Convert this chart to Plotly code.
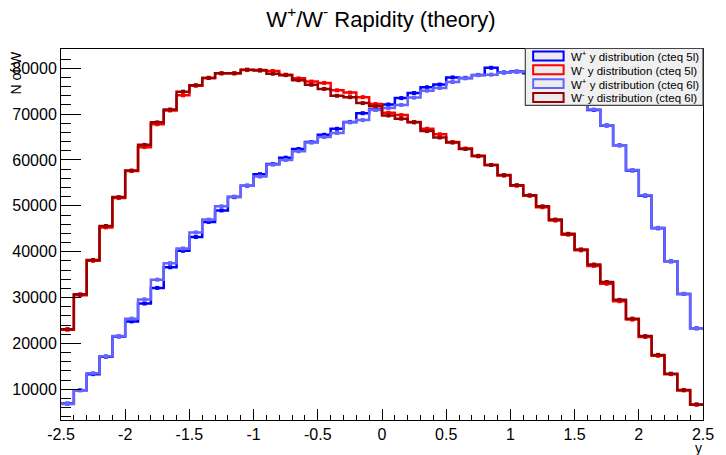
import numpy as np
import plotly.graph_objects as go

# ---- data ----
bin_lo, bin_hi, n_bins = -2.5, 2.5, 50

wplus_cteq5l = [6900, 9800, 13300, 17100, 21500, 24800, 28700, 32100, 36600, 40200,
                43200, 46500, 49000, 51900, 54400, 56900, 59100, 60500, 62400, 63900,
                65500, 66800, 68300, 70200, 71000, 72100, 73500, 74600, 75850, 76450,
                78000, 77900, 78550, 80100, 79100, 79300, 78900, 78900, 77900, 76200,
                74500, 70900, 67500, 63200, 57700, 52200, 45100, 37900, 30800, 23300]

wminus_cteq5l = [23000, 30500, 38000, 45300, 51700, 57600, 62800, 67800, 70800, 74100,
                 76200, 77900, 78900, 78900, 79600, 79600, 79400, 78600, 77800, 77100,
                 76800, 75200, 74700, 73700, 72200, 70300, 69800, 68300, 66800, 65600,
                 63900, 62500, 60800, 58900, 56600, 54400, 52200, 49700, 46800, 43700,
                 40300, 36900, 33000, 29200, 25200, 21400, 17300, 13300, 9750, 6650]

wplus_cteq6l = [6800, 9800, 13500, 17200, 21600, 25400, 29600, 33900, 37500, 40700,
                44200, 47000, 49900, 52000, 54400, 56400, 59000, 60000, 61900, 63800,
                65000, 65900, 68200, 68700, 70900, 71350, 72000, 73600, 75100, 75700,
                77000, 77800, 78500, 78600, 79000, 79200, 79300, 79400, 78800, 77500,
                74800, 71000, 67600, 63200, 57800, 52300, 45200, 37900, 30800, 23300]

wminus_cteq6l = [23100, 30700, 38200, 45600, 51900, 57700, 63300, 68200, 71000, 74900,
                 76300, 77900, 78900, 78900, 79700, 79500, 78800, 78500, 77400, 76400,
                 75500, 74000, 73700, 72400, 71700, 69700, 69000, 68200, 66300, 64900,
                 63800, 62400, 60900, 58900, 56700, 54500, 52300, 49900, 47000, 43900,
                 40500, 37200, 33400, 29500, 25400, 21600, 17500, 13400, 9850, 6700]

series_names = ["W<sup>+</sup> y distribution (cteq 5l)",
                "W<sup>-</sup> y distribution (cteq 5l)",
                "W<sup>+</sup> y distribution (cteq 6l)",
                "W<sup>-</sup> y distribution (cteq 6l)"]
series_values = [wplus_cteq5l, wminus_cteq5l, wplus_cteq6l, wminus_cteq6l]
series_colors = ["#0000ff", "#ff0000", "#6464ff", "#990000"]

x_tickvals = [-2.5, -2, -1.5, -1, -0.5, 0, 0.5, 1, 1.5, 2, 2.5]
x_ticktext = ["-2.5", "-2", "-1.5", "-1", "-0.5", "0", "0.5", "1", "1.5", "2", "2.5"]
y_tickvals = [10000, 20000, 30000, 40000, 50000, 60000, 70000, 80000]
y_ticktext = ["10000", "20000", "30000", "40000", "50000", "60000", "70000", "80000"]

# ---- figure ----
W, H = 726, 455
ML, MR, MT, MB = 60, 12, 49, 31
PW, PH = W - ML - MR, H - MT - MB
FONT = "Liberation Sans, Arial, Helvetica, sans-serif"

edges = np.linspace(bin_lo, bin_hi, n_bins + 1)
centers = 0.5 * (edges[:-1] + edges[1:])

fig = go.Figure()
for name, vals, col in zip(series_names, series_values, series_colors):
    yv = list(vals) + [vals[-1]]
    fig.add_trace(go.Scatter(x=edges, y=yv, mode="lines", line=dict(color=col, width=2.5, shape="hv"),
                             name=name, showlegend=False, hoverinfo="skip"))
    fig.add_trace(go.Scatter(x=centers, y=vals, mode="markers",
                             marker=dict(color=col, symbol="square", size=4, line=dict(width=0)),
                             showlegend=False, hoverinfo="skip"))

def px_x(p):
    return (p - ML) / PW

def px_y(p):
    return (H - MB - p) / PH

shapes = []
annotations = []

# legend box (manual)
shapes.append(dict(type="rect", xref="paper", yref="paper", x0=px_x(533), x1=px_x(714),
                   y0=px_y(106), y1=px_y(48.5), fillcolor="#f0f0f0",
                   line=dict(color="#444444", width=1.2), layer="above"))
row_centers = [56, 70, 84, 98]
for name, col, yc in zip(series_names, series_colors, row_centers):
    shapes.append(dict(type="rect", xref="paper", yref="paper", x0=px_x(541), x1=px_x(572),
                       y0=px_y(yc + 4.5), y1=px_y(yc - 4.5), fillcolor="#ececec",
                       line=dict(color=col, width=2), layer="above"))
    annotations.append(dict(text=name, xref="paper", yref="paper", x=px_x(578), y=px_y(yc),
                            xanchor="left", yanchor="middle", showarrow=False,
                            font=dict(family=FONT, size=11.5, color="black")))

# axis titles
annotations.append(dict(text="N of W", xref="paper", yref="paper", x=px_x(14), y=px_y(73),
                        textangle=-90, xanchor="center", yanchor="middle", showarrow=False,
                        font=dict(family=FONT, size=14, color="black")))
annotations.append(dict(text="y", xref="paper", yref="paper", x=px_x(709), y=px_y(452),
                        xanchor="center", yanchor="middle", showarrow=False,
                        font=dict(family=FONT, size=14, color="black")))

fig.update_layout(
    width=W, height=H,
    margin=dict(l=ML, r=MR, t=MT, b=MB, pad=0),
    paper_bgcolor="white", plot_bgcolor="white",
    title=dict(text="W<sup>+</sup>/W<sup>-</sup> Rapidity (theory)", x=px_x(386), xref="paper",
               xanchor="center", y=1 - 19 / H, yref="container", yanchor="middle",
               font=dict(family=FONT, size=22, color="black")),
    showlegend=False,
    shapes=shapes,
    annotations=annotations,
    font=dict(family=FONT, color="black"),
)
fig.update_xaxes(range=[bin_lo, bin_hi], tickmode="array", tickvals=x_tickvals, ticktext=x_ticktext,
                 ticks="inside", ticklen=11, tickwidth=1, tickcolor="black",
                 minor=dict(ticks="inside", dtick=0.1, tick0=-2.5, ticklen=5, tickcolor="black", showgrid=False),
                 showline=True, linecolor="black", linewidth=1, mirror=True,
                 showgrid=False, zeroline=False,
                 tickfont=dict(family=FONT, size=16, color="black"))
fig.update_yaxes(range=[3300, 84200], tickmode="array", tickvals=y_tickvals, ticktext=y_ticktext,
                 ticks="inside", ticklen=20, tickwidth=1, tickcolor="black",
                 minor=dict(ticks="inside", dtick=2000, tick0=0, ticklen=10, tickcolor="black", showgrid=False),
                 showline=True, linecolor="black", linewidth=1, mirror=True,
                 showgrid=False, zeroline=False,
                 tickfont=dict(family=FONT, size=16, color="black"))

fig.write_html("out.html", config={"displayModeBar": False},
               post_script="document.body.style.margin='0';document.body.style.overflow='hidden';")
